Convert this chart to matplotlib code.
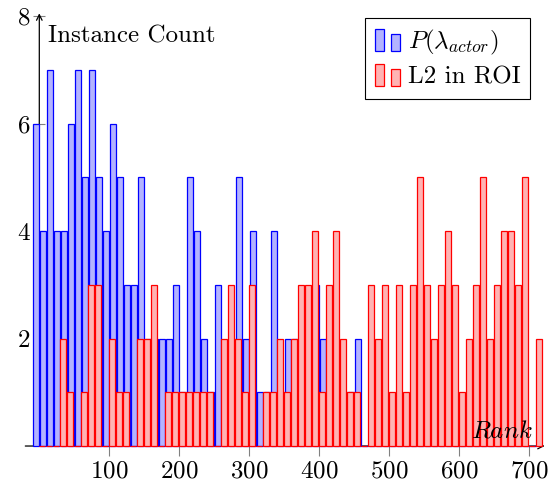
import matplotlib
matplotlib.use("Agg")
import matplotlib.pyplot as plt
import numpy as np
from matplotlib.legend_handler import HandlerBase
from matplotlib.patches import Rectangle

plt.rcParams["font.family"] = ["cmr10", "DejaVu Serif"]
plt.rcParams["mathtext.fontset"] = "cm"
plt.rcParams["axes.formatter.use_mathtext"] = True

# rank bins (left edge of each 10-wide bin)
rank_bins = np.arange(0, 720, 10)

# P(lambda_actor) counts per bin
actor_counts = [6, 4, 7, 4, 4, 6, 7, 5, 7, 5,
                4, 6, 5, 3, 3, 5, 2, 2, 2, 2,
                3, 1, 5, 4, 2, 1, 3, 1, 2, 5,
                2, 4, 1, 1, 4, 1, 2, 2, 2, 1,
                3, 2, 2, 1, 1, 1, 2, 0, 0, 0,
                0, 0, 0, 0, 0, 0, 0, 0, 0, 0,
                0, 0, 0, 0, 0, 0, 0, 0, 0, 0,
                0, 0]

# L2 in ROI counts per bin
roi_counts = [0, 0, 0, 2, 1, 0, 1, 3, 3, 0,
              2, 1, 1, 0, 2, 2, 3, 0, 1, 1,
              1, 1, 1, 1, 1, 0, 2, 3, 2, 1,
              3, 0, 1, 1, 2, 1, 2, 3, 3, 4,
              1, 3, 4, 2, 1, 1, 0, 3, 2, 3,
              1, 3, 1, 3, 5, 3, 2, 3, 4, 3,
              1, 2, 3, 5, 2, 3, 4, 4, 3, 5,
              0, 2]

x_ticks = [100, 200, 300, 400, 500, 600, 700]
y_ticks = [2, 4, 6, 8]

BLUE_FILL, BLUE_EDGE = "#b3b3ff", "#0000ff"
RED_FILL, RED_EDGE = "#ffb3b3", "#ff0000"


class BarPairHandler(HandlerBase):
    # pgfplots-style ybar legend image: two small bars
    def create_artists(self, legend, orig_handle, xdescent, ydescent,
                       width, height, fontsize, trans):
        fc = orig_handle.get_facecolor()
        ec = orig_handle.get_edgecolor()
        w = width * 0.36
        r1 = Rectangle((-xdescent, -ydescent - 2), w, height * 1.3,
                       facecolor=fc, edgecolor=ec, lw=0.9, transform=trans)
        r2 = Rectangle((-xdescent + width - w, -ydescent - 2), w, height * 1.0,
                       facecolor=fc, edgecolor=ec, lw=0.9, transform=trans)
        return [r1, r2]


fig = plt.figure(figsize=(5.5, 4.91), dpi=100)
ax = fig.add_axes([0.046, 0.0916, 0.9418, 0.8758])

ax.bar(rank_bins - 4.3, actor_counts, width=8.8, color=BLUE_FILL,
       edgecolor=BLUE_EDGE, linewidth=0.9, clip_on=False, zorder=2)
ax.bar(rank_bins + 4.0, roi_counts, width=7.6, color=RED_FILL,
       edgecolor=RED_EDGE, linewidth=0.9, clip_on=False, zorder=3)

ax.set_xlim(-20, 720)
ax.set_ylim(0, 8)

# axis lines in the middle, with arrows
for s in ["top", "right", "left", "bottom"]:
    ax.spines[s].set_visible(False)
ax.spines["left"].set_position(("data", 0))
ax.annotate("", xy=(0, 8.05), xytext=(0, 0), xycoords="data",
            arrowprops=dict(arrowstyle="->", lw=0.9, color="black",
                            shrinkA=0, shrinkB=0), annotation_clip=False, zorder=1)
ax.annotate("", xy=(722, 0), xytext=(-20, 0), xycoords="data",
            arrowprops=dict(arrowstyle="->", lw=0.9, color="black",
                            shrinkA=0, shrinkB=0), annotation_clip=False, zorder=1)

ax.set_axisbelow(True)
ax.set_xticks(x_ticks)
ax.set_yticks(y_ticks)
ax.tick_params(axis="x", direction="out", length=7.5, width=0.8, color="#808080",
               labelsize=18, pad=3)
ax.tick_params(axis="y", direction="inout", length=8.5, width=0.8, color="#808080",
               labelsize=18, pad=2)

ax.text(12, 7.62, "Instance Count", ha="left", va="center", fontsize=18)
ax.text(705, 0.15, r"$Rank$", ha="right", va="baseline", fontsize=18)

blue_proxy = Rectangle((0, 0), 1, 1, facecolor=BLUE_FILL, edgecolor=BLUE_EDGE)
red_proxy = Rectangle((0, 0), 1, 1, facecolor=RED_FILL, edgecolor=RED_EDGE)
leg = ax.legend([blue_proxy, red_proxy], [r"$P(\lambda_{actor})$", "L2 in ROI"],
                handler_map={blue_proxy: BarPairHandler(), red_proxy: BarPairHandler()},
                loc="upper right", bbox_to_anchor=(0.975, 0.995), borderaxespad=0,
                fontsize=18, fancybox=False, framealpha=1, edgecolor="black",
                handlelength=1.0, handletextpad=0.3, borderpad=0.4,
                labelspacing=0.35)
leg.get_frame().set_linewidth(0.8)

fig.savefig("out.png", dpi=100)
